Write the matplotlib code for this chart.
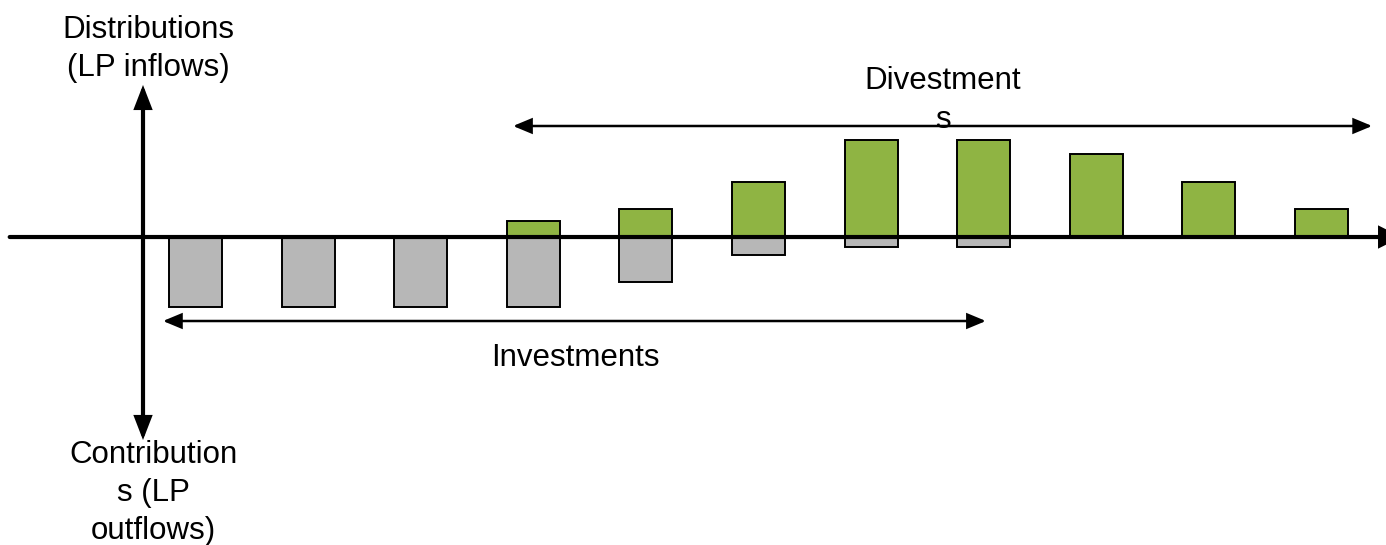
import matplotlib.pyplot as plt
import numpy as np

plt.rcParams['font.family'] = ['Liberation Sans', 'DejaVu Sans']

# cash flows per period (arbitrary units)
periods = np.arange(1, 12)
distributions = [0, 0, 0, 1.15, 2.0, 3.95, 6.95, 6.95, 5.95, 3.95, 2.0]
contributions = [5.0, 5.0, 5.0, 5.0, 3.2, 1.3, 0.7, 0.7, 0, 0, 0]

green = '#8fb443'
grey = '#b7b7b7'

fig = plt.figure(figsize=(13.86, 5.45), dpi=100)
ax = fig.add_axes([0, 0, 1, 1])
ax.set_xlim(-0.736, 11.573)
ax.set_ylim(-22, 16.93)
ax.axis('off')

c_per = [c for c in contributions if c > 0]
ax.bar(periods[:len(c_per)], [-c for c in c_per], width=0.47,
       color=grey, edgecolor='black', linewidth=1.4, zorder=2)
d_idx = [i for i, d in enumerate(distributions) if d > 0]
ax.bar(periods[d_idx], [distributions[i] for i in d_idx], width=0.47,
       color=green, edgecolor='black', linewidth=1.4, zorder=2)

# time axis (head runs off the right edge)
ax.annotate('', xy=(11.71, 0), xytext=(-0.65, 0),
            arrowprops=dict(arrowstyle='-|>,head_length=0.6,head_width=0.3',
                            lw=3, color='black', mutation_scale=20,
                            shrinkA=0, shrinkB=0, joinstyle='miter'),
            zorder=3, annotation_clip=False)

# cash axis
ax.annotate('', xy=(0.534, 10.86), xytext=(0.534, -14.5),
            arrowprops=dict(arrowstyle='<|-|>,head_length=0.62,head_width=0.24',
                            lw=3, color='black', mutation_scale=20,
                            shrinkA=0, shrinkB=0, joinstyle='miter'),
            zorder=3)

# phase spans
span_style = '<|-|>,head_length=0.65,head_width=0.27'
ax.annotate('', xy=(0.711, -6.0), xytext=(8.02, -6.0),
            arrowprops=dict(arrowstyle=span_style,
                            lw=1.8, color='black', mutation_scale=17,
                            shrinkA=0, shrinkB=0, joinstyle='miter'),
            zorder=3)
ax.annotate('', xy=(3.82, 7.93), xytext=(11.45, 7.93),
            arrowprops=dict(arrowstyle=span_style,
                            lw=1.8, color='black', mutation_scale=17,
                            shrinkA=0, shrinkB=0, joinstyle='miter'),
            zorder=3)

fs = 22.5
ax.text(0.58, 13.4, 'Distributions\n(LP inflows)', ha='center', va='center',
        fontsize=fs, linespacing=1.35)
ax.text(7.64, 9.75, 'Divestment\ns', ha='center', va='center',
        fontsize=fs, linespacing=1.35)
ax.text(4.37, -8.65, 'Investments', ha='center', va='center', fontsize=fs)
ax.text(0.63, -18.3, 'Contribution\ns (LP\noutflows)', ha='center',
        va='center', fontsize=fs, linespacing=1.35)

fig.savefig('out.png', dpi=100)
